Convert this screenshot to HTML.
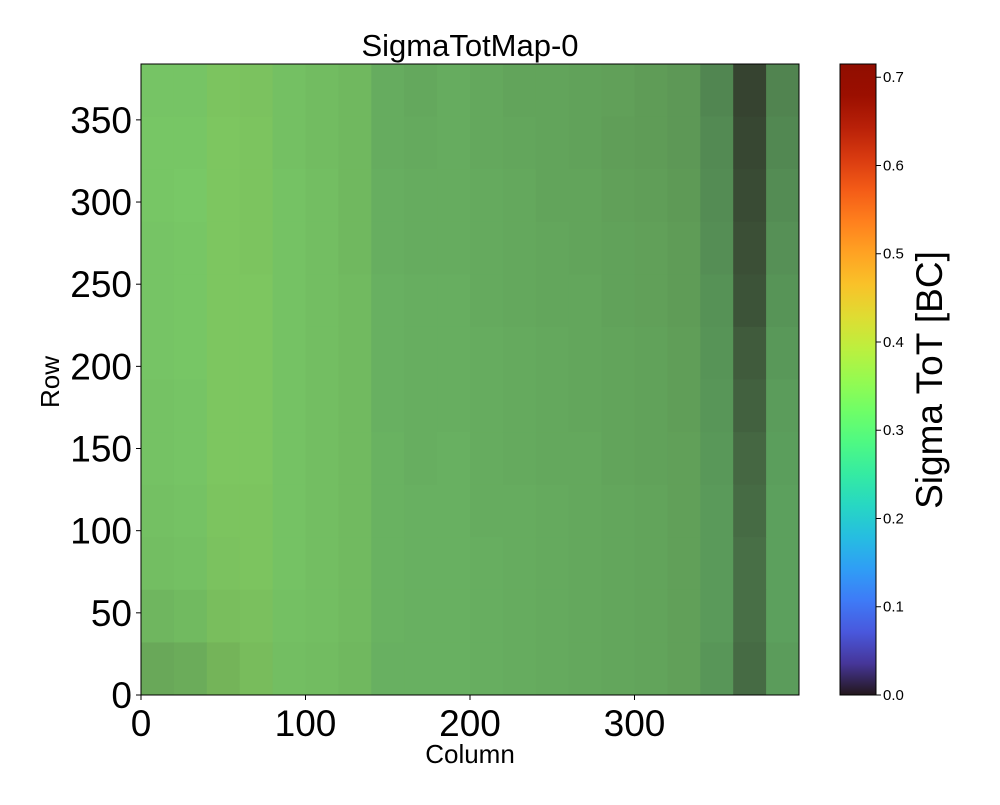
<!DOCTYPE html>
<html><head><meta charset="utf-8"><style>
body{margin:0;background:#fff;}
svg text{font-family:"Liberation Sans","DejaVu Sans",sans-serif;}
</style></head><body>
<svg id="chart" width="1000" height="800" viewBox="0 0 1000 800">
<defs><linearGradient id="cbg" x1="0" y1="1" x2="0" y2="0"></linearGradient></defs>
<text x="470" y="56" font-size="31" text-anchor="middle">SigmaTotMap-0</text>
<g id="heat"></g>
<g id="axes"></g>
<text x="470" y="763" font-size="26" text-anchor="middle">Column</text>
<text transform="translate(59,382) rotate(-90)" font-size="26" text-anchor="middle">Row</text>
<rect x="840" y="64" width="36" height="631" fill="url(#cbg)" stroke="#000" stroke-width="1"/>
<g id="cbticks"></g>
<text transform="translate(942,380) rotate(-90)" font-size="37" text-anchor="middle">Sigma ToT [BC]</text>
</svg>
<script>
// Coarse grid: 20 column bins (20 cols each) x 12 row bins (32 rows each), top row first.
// darkFrac = fraction of zero (dark) pixels; meanVal = mean non-zero sigma ToT.
const xTicks=[0,100,200,300];
const yTicks=[0,50,100,150,200,250,300,350];
const cbTicks=[0.0,0.1,0.2,0.3,0.4,0.5,0.6,0.7];
const darkFrac=[
[0.14,0.14,0.14,0.15,0.16,0.18,0.20,0.26,0.28,0.26,0.28,0.30,0.30,0.31,0.32,0.34,0.36,0.45,0.78,0.46],
[0.13,0.13,0.13,0.14,0.16,0.18,0.20,0.26,0.27,0.26,0.28,0.29,0.30,0.31,0.33,0.34,0.36,0.43,0.76,0.44],
[0.13,0.12,0.13,0.14,0.15,0.17,0.20,0.25,0.26,0.26,0.27,0.28,0.30,0.30,0.32,0.33,0.35,0.42,0.74,0.42],
[0.14,0.13,0.13,0.14,0.15,0.17,0.20,0.25,0.26,0.26,0.27,0.28,0.29,0.30,0.31,0.32,0.34,0.41,0.72,0.40],
[0.14,0.13,0.13,0.13,0.15,0.17,0.19,0.24,0.25,0.25,0.27,0.28,0.29,0.29,0.31,0.32,0.34,0.39,0.70,0.38],
[0.14,0.13,0.13,0.13,0.15,0.17,0.19,0.24,0.25,0.25,0.26,0.27,0.28,0.29,0.30,0.31,0.33,0.38,0.66,0.36],
[0.15,0.14,0.13,0.13,0.15,0.17,0.19,0.24,0.25,0.25,0.26,0.27,0.28,0.29,0.30,0.31,0.33,0.37,0.63,0.34],
[0.15,0.14,0.13,0.13,0.15,0.17,0.19,0.23,0.25,0.24,0.26,0.27,0.28,0.28,0.30,0.31,0.32,0.36,0.60,0.33],
[0.16,0.15,0.14,0.14,0.15,0.17,0.19,0.23,0.24,0.24,0.26,0.26,0.27,0.28,0.29,0.30,0.32,0.35,0.58,0.32],
[0.17,0.16,0.15,0.14,0.15,0.17,0.19,0.23,0.24,0.24,0.25,0.26,0.27,0.28,0.29,0.30,0.32,0.35,0.56,0.32],
[0.21,0.19,0.17,0.16,0.16,0.17,0.19,0.23,0.24,0.24,0.25,0.26,0.27,0.28,0.29,0.30,0.32,0.35,0.56,0.32],
[0.28,0.26,0.22,0.18,0.17,0.18,0.20,0.24,0.24,0.24,0.25,0.26,0.27,0.28,0.29,0.30,0.32,0.37,0.58,0.34]
];
const meanVal=[0.33,0.33,0.34,0.34,0.33,0.33,0.33,0.32,0.32,0.32,0.32,0.32,0.32,0.32,0.32,0.32,0.32,0.31,0.31,0.31];

const X0=141,X1=799,Y0=695,Y1=64,NCOL=400,NROW=384,VMAX=0.715,SPREAD=0.16;
const xs=c=>X0+(X1-X0)*c/NCOL;
const ys=r=>Y0-(Y0-Y1)*r/NROW;
function turbo(t){t=Math.max(0,Math.min(1,t));
const r=0.13572138+t*(4.61539260+t*(-42.66032258+t*(132.13108234+t*(-152.94239396+t*59.28637943))));
const g=0.09140261+t*(2.19418839+t*(4.84296658+t*(-14.18503333+t*(4.27729857+t*2.82956604))));
const b=0.10667330+t*(12.64194608+t*(-60.58204836+t*(110.36276771+t*(-89.90310912+t*27.34824973))));
return [r,g,b].map(v=>Math.round(Math.max(0,Math.min(1,v))*255));}
// average colour of noisy pixels spread around the mean value
function noiseColor(v){let acc=[0,0,0],n=0;for(let k=-10;k<=10;k++){const c=turbo((v+SPREAD*k/10)/VMAX);acc=acc.map((a,i)=>a+c[i]);n++;}return acc.map(a=>a/n);}
const NS="http://www.w3.org/2000/svg";
const dark=turbo(0);
const heat=document.getElementById('heat');
const nR=darkFrac.length,nC=darkFrac[0].length;
for(let i=0;i<nR;i++)for(let j=0;j<nC;j++){
 const c0=j*NCOL/nC,c1=(j+1)*NCOL/nC,r1=NROW-i*NROW/nR,r0=NROW-(i+1)*NROW/nR;
 const f=darkFrac[i][j],col=noiseColor(meanVal[j]);
 const m=col.map((v,k)=>Math.round(v*(1-f)+dark[k]*f));
 const el=document.createElementNS(NS,'rect');
 el.setAttribute('x',xs(c0));el.setAttribute('y',ys(r1));
 el.setAttribute('width',xs(c1)-xs(c0)+0.5);el.setAttribute('height',ys(r0)-ys(r1)+0.5);
 el.setAttribute('fill',`rgb(${m})`);
 
 
 heat.appendChild(el);
}
const ax=document.getElementById('axes');
function add(parent,tag,attrs,text){const e=document.createElementNS(NS,tag);for(const k in attrs)e.setAttribute(k,attrs[k]);if(text!==undefined)e.textContent=text;parent.appendChild(e);return e;}
const frame=add(ax,'rect',{x:X0,y:Y1,width:X1-X0,height:Y0-Y1,fill:'none',stroke:'#000','stroke-width':1});


xTicks.forEach(v=>{
 const l=add(ax,'line',{x1:xs(v),x2:xs(v),y1:Y0,y2:Y0+5,stroke:'#000'});
 
 
 const t=add(ax,'text',{x:xs(v),y:Y0+41,'font-size':37,'text-anchor':'middle'},String(v));
 
 
});
yTicks.forEach(v=>{
 const l=add(ax,'line',{x1:X0-5,x2:X0,y1:ys(v),y2:ys(v),stroke:'#000'});
 
 
 const t=add(ax,'text',{x:X0-9,y:ys(v)+13,'font-size':37,'text-anchor':'end'},String(v));
 
 
});
const grad=document.getElementById('cbg');
for(let k=0;k<=20;k++){add(grad,'stop',{offset:(k/20),'stop-color':`rgb(${turbo(k/20)})`});}
const cbt=document.getElementById('cbticks');
cbTicks.forEach(v=>{
 const y=695-631*v/VMAX;
 const l=add(cbt,'line',{x1:876,x2:881,y1:y,y2:y,stroke:'#000'});
 
 
 const t=add(cbt,'text',{x:883,y:y+5,'font-size':15},v.toFixed(1));
 
 
});
</script>
</body></html>
